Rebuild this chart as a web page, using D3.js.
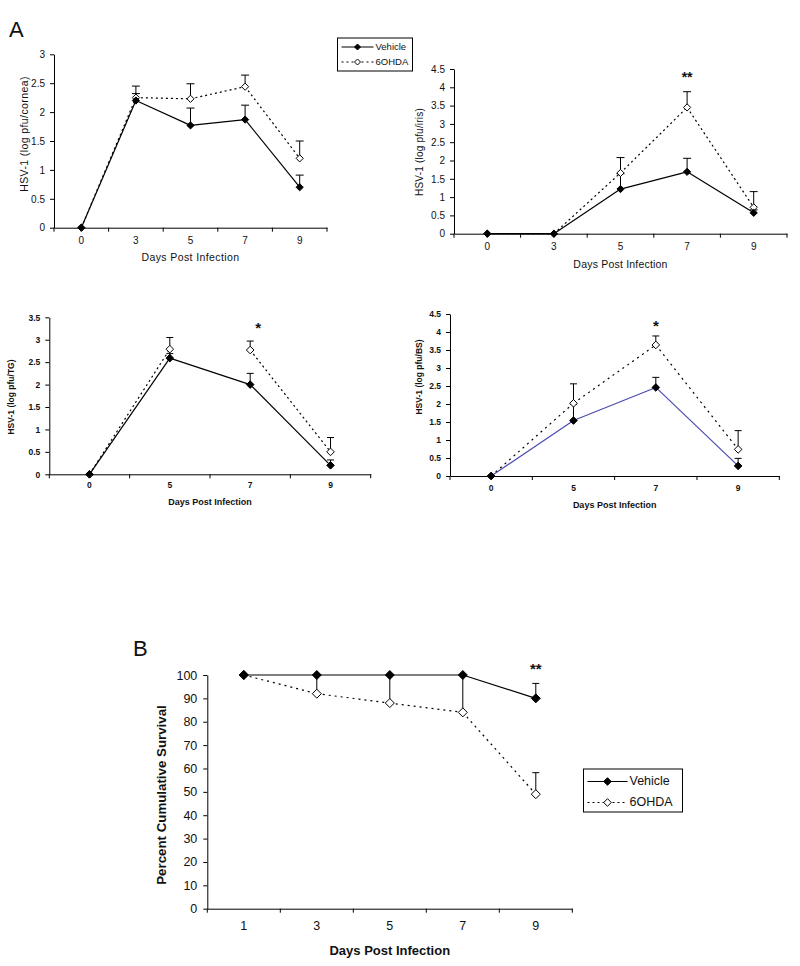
<!DOCTYPE html>
<html><head><meta charset="utf-8">
<script src="https://cdn.jsdelivr.net/npm/d3@7"></script>
<style>body{margin:0;background:#fff}svg{display:block}</style>
</head><body>
<svg id="c" width="800" height="966"></svg>
<script>
// ---------- DATA ----------
const corneaDays = ["0","3","5","7","9"];
const corneaVehicle = [0, 2.2, 1.77, 1.87, 0.7];
const corneaVehicleErr = [0, 0.12, 0.3, 0.25, 0.21];
const corneaOHDA = [0, 2.25, 2.23, 2.44, 1.2];
const corneaOHDAErr = [0, 0.2, 0.26, 0.2, 0.3];
const corneaTicks = [0, 0.5, 1, 1.5, 2, 2.5, 3];
const corneaSig = ["", "", "", "", ""];

const irisDays = ["0","3","5","7","9"];
const irisVehicle = [0, 0, 1.22, 1.69, 0.57];
const irisVehicleErr = [0, 0, 0.42, 0.37, 0.08];
const irisOHDA = [0, 0, 1.66, 3.45, 0.72];
const irisOHDAErr = [0, 0, 0.42, 0.43, 0.43];
const irisTicks = [0, 0.5, 1, 1.5, 2, 2.5, 3, 3.5, 4, 4.5];
const irisSig = ["", "", "", "**", ""];

const tgDays = ["0","5","7","9"];
const tgVehicle = [0, 2.59, 2.0, 0.2];
const tgVehicleErr = [0, 0.1, 0.25, 0.12];
const tgOHDA = [0, 2.79, 2.77, 0.5];
const tgOHDAErr = [0, 0.26, 0.2, 0.32];
const tgOHDAConnected = [true, false, true];
const tgTicks = [0, 0.5, 1, 1.5, 2, 2.5, 3, 3.5];
const tgSig = ["", "", "*", ""];

const bsDays = ["0","5","7","9"];
const bsVehicle = [0, 1.54, 2.46, 0.28];
const bsVehicleErr = [0, 0.45, 0.28, 0.21];
const bsOHDA = [0, 2.02, 3.64, 0.74];
const bsOHDAErr = [0, 0.54, 0.25, 0.52];
const bsTicks = [0, 0.5, 1, 1.5, 2, 2.5, 3, 3.5, 4, 4.5];
const bsSig = ["", "", "*", ""];

const survDays = ["1","3","5","7","9"];
const survVehicle = [100, 100, 100, 100, 90];
const survVehicleErr = [0, 0, 0, 0, 6.4];
const survOHDA = [100, 92, 88, 84, 49];
const survOHDAErr = [0, 8, 12, 16, 9.2];
const survTicks = [0,10,20,30,40,50,60,70,80,90,100];
const survSig = ["", "", "", "", "**"];

const seriesNames = ["Vehicle", "6OHDA"];

// ---------- DRAW ----------
const svg = d3.select("#c");
const diamond = r => `M0,${-r}L${r},0L0,${r}L${-r},0Z`;
const FAM = "Liberation Sans, Arial, sans-serif";

function panel(o) {
  const g = svg.append("g");
  const x = d3.scaleBand().domain(o.days).range([o.left, o.right]);
  const y = d3.scaleLinear().domain([0, o.ymax]).range([o.bottom, o.top]);
  const cx = d => x(d) + x.bandwidth() / 2;
  const font = o.font;

  const ya = g.append("g").attr("transform", `translate(${o.left},0)`)
    .call(d3.axisLeft(y).tickValues(o.ticks).tickSize(4).tickSizeOuter(0).tickPadding(o.tickPad || 5)
      .tickFormat(d => String(d)));
  const xa = g.append("g").attr("transform", `translate(0,${o.bottom})`)
    .call(d3.axisBottom(x).tickSize(0).tickPadding(o.xPad || 10));
  [ya, xa].forEach(a => {
    a.selectAll("path,line").attr("stroke", "#000").attr("stroke-width", 1);
    a.selectAll("text").attr("fill", "#111").style("font-family", font.family)
      .style("font-size", font.size + "px").style("font-weight", font.weight || "normal");
  });
  g.selectAll(".bt").data(d3.range(o.days.length + 1)).enter().append("line")
    .attr("x1", i => o.left + i * x.step()).attr("x2", i => o.left + i * x.step())
    .attr("y1", o.bottom).attr("y2", o.bottom + 4).attr("stroke", "#000");

  g.append("text").attr("x", (o.left + o.right) / 2).attr("y", o.xTitleY)
    .attr("text-anchor", "middle").attr("dominant-baseline", "middle")
    .style("font-family", font.family).style("font-size", o.titleSize + "px")
    .style("letter-spacing", (o.ls || 0) + "px")
    .style("font-weight", o.titleWeight || "normal").attr("fill", "#111").text(o.xTitle);
  g.append("text").attr("transform", `translate(${o.yTitleX},${o.yTitleCY}) rotate(-90)`)
    .attr("text-anchor", "middle").attr("dominant-baseline", "middle")
    .style("font-family", font.family).style("font-size", o.yTitleSize + "px")
    .style("letter-spacing", (o.ls || 0) + "px")
    .style("font-weight", o.titleWeight || "normal").attr("fill", "#111").text(o.yTitle);

  const sets = [
    {vals: o.ohda, err: o.ohdaErr, dash: o.dash, fill: "#fff", color: "#000", conn: o.ohdaConn},
    {vals: o.veh, err: o.vehErr, dash: null, fill: "#000", color: o.vehColor || "#000", conn: null}
  ];
  sets.forEach(s => {
    s.vals.forEach((v, i) => {
      if (!s.err[i]) return;
      const X = cx(o.days[i]);
      g.append("line").attr("x1", X).attr("x2", X).attr("y1", y(v)).attr("y2", y(v + s.err[i])).attr("stroke", "#000");
      g.append("line").attr("x1", X - o.cap).attr("x2", X + o.cap).attr("y1", y(v + s.err[i])).attr("y2", y(v + s.err[i])).attr("stroke", "#000");
    });
  });
  const line = d3.line().x(d => cx(d[0])).y(d => y(d[1]));
  sets.forEach(s => {
    const pts = o.days.map((d, i) => [d, s.vals[i]]);
    for (let i = 0; i < pts.length - 1; i++) {
      if (s.conn && !s.conn[i]) continue;
      g.append("path").attr("d", line([pts[i], pts[i + 1]])).attr("fill", "none")
        .attr("stroke", s.color).attr("stroke-width", o.lw).attr("stroke-dasharray", s.dash);
    }
  });
  sets.forEach(s => {
    s.vals.forEach((v, i) => {
      g.append("path").attr("d", diamond(o.r)).attr("transform", `translate(${cx(o.days[i])},${y(v)})`)
        .attr("fill", s.fill).attr("stroke", "#000").attr("stroke-width", 1);
    });
  });
  o.sig.forEach((s, i) => {
    if (!s) return;
    const top = Math.max(o.veh[i] + o.vehErr[i], o.ohda[i] + o.ohdaErr[i]);
    g.append("text").attr("x", cx(o.days[i]) + (o.sigDx || 0)).attr("y", y(top) - o.sigGap)
      .attr("text-anchor", "middle").style("font-family", FAM)
      .style("font-size", o.sigSize + "px").style("font-weight", "bold").attr("fill", "#111").text(s);
  });
}

function legend(x0, y0, w, h, rowY, lineLen, r, fs) {
  const g = svg.append("g");
  g.append("rect").attr("x", x0).attr("y", y0).attr("width", w).attr("height", h)
    .attr("fill", "#fff").attr("stroke", "#000").attr("stroke-width", 1);
  seriesNames.forEach((n, i) => {
    const yy = rowY[i];
    g.append("line").attr("x1", x0 + 4).attr("x2", x0 + 4 + lineLen).attr("y1", yy).attr("y2", yy)
      .attr("stroke", "#000").attr("stroke-dasharray", i ? "2,3" : null);
    g.append("path").attr("d", diamond(r)).attr("transform", `translate(${x0 + 4 + lineLen / 2},${yy})`)
      .attr("fill", i ? "#fff" : "#000").attr("stroke", "#000");
    g.append("text").attr("x", x0 + 6 + lineLen).attr("y", yy).attr("dominant-baseline", "middle")
      .style("font-family", FAM).style("font-size", fs + "px")
      .attr("fill", "#111").text(n);
  });
}

const fA = {family: FAM, size: 10};
const fC = {family: FAM, size: 8.5, weight: "bold"};

panel({days: corneaDays, veh: corneaVehicle, vehErr: corneaVehicleErr, ohda: corneaOHDA, ohdaErr: corneaOHDAErr,
  ticks: corneaTicks, sig: corneaSig, ymax: 3, left: 54, right: 327, top: 54.3, bottom: 227.7,
  font: fA, titleSize: 10.5, yTitleSize: 10.5, ls: 0.4, xTitle: "Days Post Infection", xTitleY: 258, yTitle: "HSV-1 (log pfu/cornea)",
  yTitleX: 25, yTitleCY: 134, dash: "2,3", lw: 1.2, r: 3.6, cap: 4, sigGap: 8, sigSize: 14, xPad: 9});

panel({days: irisDays, veh: irisVehicle, vehErr: irisVehicleErr, ohda: irisOHDA, ohdaErr: irisOHDAErr,
  ticks: irisTicks, sig: irisSig, ymax: 4.5, left: 454, right: 787, top: 69, bottom: 233.7,
  font: fA, titleSize: 10.5, yTitleSize: 10, ls: 0.2, xTitle: "Days Post Infection", xTitleY: 265, yTitle: "HSV-1 (log pfu/iris)",
  yTitleX: 420, yTitleCY: 152, dash: "2,3", lw: 1.2, r: 3.6, cap: 4, sigGap: 10, sigSize: 14, xPad: 9});

panel({days: tgDays, veh: tgVehicle, vehErr: tgVehicleErr, ohda: tgOHDA, ohdaErr: tgOHDAErr, ohdaConn: tgOHDAConnected,
  ticks: tgTicks, sig: tgSig, ymax: 3.5, left: 49.3, right: 370.7, top: 317.3, bottom: 474.3,
  font: fC, titleSize: 9, yTitleSize: 8.5, titleWeight: "bold", xTitle: "Days Post Infection", xTitleY: 502.5, yTitle: "HSV-1 (log pfu/TG)",
  yTitleX: 12, yTitleCY: 397, dash: "2,3", lw: 1.2, r: 3.8, cap: 3.5, sigGap: 8, sigDx: 8, sigSize: 15, xPad: 8});

panel({days: bsDays, veh: bsVehicle, vehErr: bsVehicleErr, ohda: bsOHDA, ohdaErr: bsOHDAErr, vehColor: "#4a4aae",
  ticks: bsTicks, sig: bsSig, ymax: 4.5, left: 450, right: 779.3, top: 314, bottom: 476,
  font: fC, titleSize: 9, yTitleSize: 8.5, titleWeight: "bold", xTitle: "Days Post Infection", xTitleY: 506, yTitle: "HSV-1 (log pfu/BS)",
  yTitleX: 420, yTitleCY: 377, dash: "2,4", lw: 1.2, r: 3.8, cap: 3.5, sigGap: 5, sigSize: 15, xPad: 9});

panel({days: survDays, veh: survVehicle, vehErr: survVehicleErr, ohda: survOHDA, ohdaErr: survOHDAErr,
  ticks: survTicks, sig: survSig, ymax: 100, left: 207.3, right: 572.3, top: 675, bottom: 908.7,
  font: {family: FAM, size: 12.5}, titleSize: 13, yTitleSize: 13.3, titleWeight: "bold",
  xTitle: "Days Post Infection", xTitleY: 952, yTitle: "Percent Cumulative Survival",
  yTitleX: 162, yTitleCY: 795, dash: "2,4", lw: 1.2, r: 4.5, cap: 3.5, sigGap: 9, sigSize: 15, xPad: 12, tickPad: 6});

legend(337.5, 38, 75, 33, [47, 62], 32, 3, 9.5);
legend(583.5, 769, 99, 43, [781.5, 802.5], 40, 3.8, 12.5);

svg.append("text").attr("x", 9).attr("y", 37).style("font-family", FAM)
  .style("font-size", "22px").attr("fill", "#111").text("A");
svg.append("text").attr("x", 133).attr("y", 656).style("font-family", FAM)
  .style("font-size", "22px").attr("fill", "#111").text("B");
</script>
</body></html>
